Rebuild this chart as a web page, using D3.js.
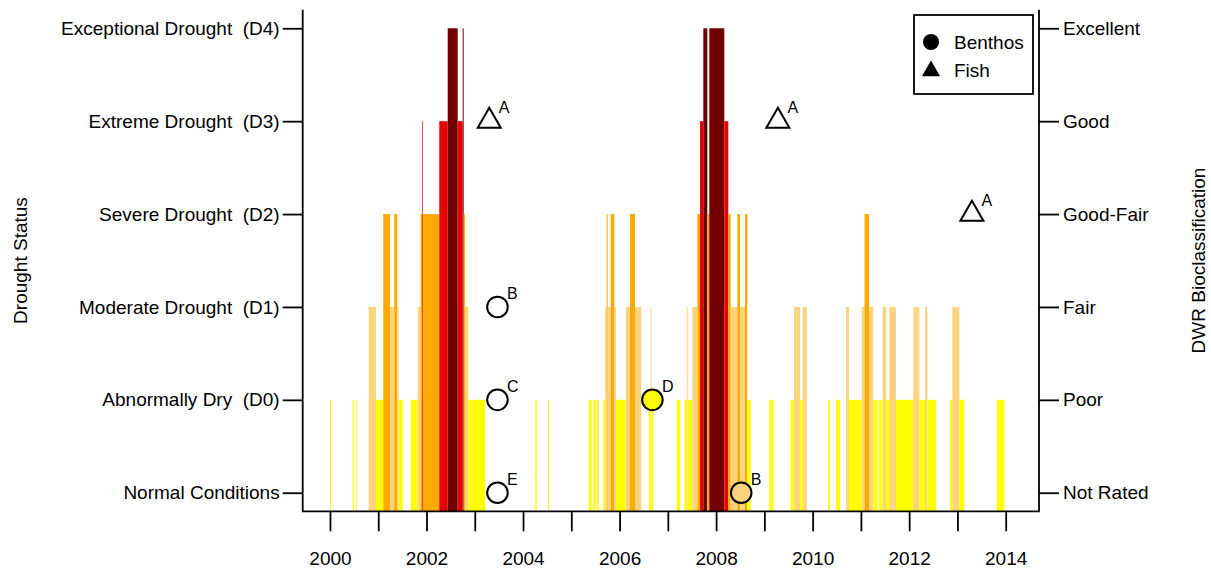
<!DOCTYPE html>
<html>
<head>
<meta charset="utf-8">
<script src="https://cdn.jsdelivr.net/npm/d3@7"></script>
<style>
  body { margin: 0; background: #fff; }
  svg text { font-family: "Liberation Sans", Arial, sans-serif; fill: #000; }
</style>
</head>
<body>
<div id="chart"></div>
<script>
var width = 1211;
var height = 570;

// weekly drought monitor periods (decimal years) and category (0 = D0 ... 4 = D4)
var periodStart = [2000.000, 2000.470, 2000.533, 2000.802, 2000.953, 2001.104, 2001.243, 2001.332, 2001.395, 2001.424,
                   2001.672, 2001.817, 2001.879, 2001.913, 2001.927, 2002.265, 2002.439, 2002.646, 2002.750, 2002.770,
                   2002.797, 2002.866, 2004.254, 2004.517, 2005.367, 2005.456, 2005.533, 2005.663, 2005.704, 2005.733,
                   2005.754, 2005.816, 2005.891, 2005.926, 2006.127, 2006.216, 2006.320, 2006.610, 2006.645, 2006.662,
                   2007.184, 2007.342, 2007.391, 2007.412, 2007.507, 2007.611, 2007.667, 2007.735, 2007.818, 2007.859,
                   2008.170, 2008.253, 2008.303, 2008.440, 2008.496, 2008.599, 2008.647, 2009.103, 2009.546, 2009.615,
                   2009.739, 2009.795, 2010.325, 2010.485, 2010.692, 2010.754, 2011.017, 2011.075, 2011.169, 2011.258,
                   2011.376, 2011.452, 2011.521, 2011.589, 2011.728, 2012.087, 2012.211, 2012.329, 2012.377, 2012.847,
                   2012.895, 2013.040, 2013.815];
var periodEnd   = [2000.021, 2000.491, 2000.553, 2000.953, 2001.104, 2001.243, 2001.332, 2001.395, 2001.424, 2001.506,
                   2001.817, 2001.879, 2001.913, 2001.927, 2002.265, 2002.439, 2002.646, 2002.750, 2002.770, 2002.797,
                   2002.866, 2003.212, 2004.283, 2004.538, 2005.423, 2005.505, 2005.568, 2005.704, 2005.733, 2005.754,
                   2005.816, 2005.891, 2005.926, 2006.127, 2006.216, 2006.320, 2006.450, 2006.645, 2006.662, 2006.699,
                   2007.252, 2007.391, 2007.412, 2007.507, 2007.611, 2007.667, 2007.735, 2007.818, 2007.859, 2008.170,
                   2008.253, 2008.303, 2008.440, 2008.496, 2008.599, 2008.647, 2008.717, 2009.186, 2009.615, 2009.739,
                   2009.795, 2009.878, 2010.361, 2010.568, 2010.754, 2011.017, 2011.075, 2011.169, 2011.258, 2011.341,
                   2011.452, 2011.521, 2011.589, 2011.728, 2012.087, 2012.211, 2012.329, 2012.377, 2012.557, 2012.895,
                   2013.040, 2013.143, 2013.972];
var droughtCat  = [0, 0, 0, 1, 0, 2, 1, 2, 1, 0,
                   0, 1, 2, 3, 2, 3, 4, 3, 4, 2,
                   1, 0, 0, 0, 0, 0, 0, 0, 1, 2,
                   1, 2, 1, 0, 1, 2, 1, 0, 1, 0,
                   0, 0, 1, 0, 1, 2, 3, 4, 2, 4,
                   3, 2, 1, 2, 1, 2, 0, 0, 0, 1,
                   0, 1, 0, 0, 1, 0, 1, 2, 1, 0,
                   0, 1, 0, 1, 0, 1, 0, 1, 0, 0,
                   1, 0, 0];

var droughtLabels = ["Normal Conditions", "Abnormally Dry  (D0)", "Moderate Drought  (D1)",
                     "Severe Drought  (D2)", "Extreme Drought  (D3)", "Exceptional Drought  (D4)"];
var bioLabels = ["Not Rated", "Poor", "Fair", "Good-Fair", "Good", "Excellent"];
var droughtColors = ["#FFFF00", "#FCD37F", "#FFAA00", "#E60000", "#730000"];

// bioclassification samples
var sampleDate   = [2003.30, 2009.28, 2013.30, 2003.47, 2003.47, 2003.47, 2006.68, 2008.52];
var sampleType   = ["Fish", "Fish", "Fish", "Benthos", "Benthos", "Benthos", "Benthos", "Benthos"];
var sampleRating = [4, 4, 3, 2, 1, 0, 1, 0];
var sampleLetter = ["A", "A", "A", "B", "C", "E", "D", "B"];

var yearTicks = d3.range(2000, 2015);

var periods = periodStart.map(function(s, i) {
    return {"start": s, "end": periodEnd[i], "cat": droughtCat[i]};
});
var samples = sampleDate.map(function(d, i) {
    return {"date": d, "type": sampleType[i], "rating": sampleRating[i], "letter": sampleLetter[i]};
});

function droughtAt(date) {
    for (let i = 0; i < periods.length; i++) {
        if (date >= periods[i].start && date < periods[i].end) { return periods[i].cat; }
    }
    return null;
}

function triangle(cx, cy, r) {
    return "M" + cx + "," + (cy - r) +
           "L" + (cx + 0.866 * r) + "," + (cy + r / 2) +
           "L" + (cx - 0.866 * r) + "," + (cy + r / 2) + "Z";
}

var plotLeft = 302.7, plotRight = 1039, plotTop = 9.7, plotBottom = 511.3;

var xScale = d3.scaleLinear()
    .domain([1999.435, 2014.69])
    .range([plotLeft, plotRight]);
var yScale = d3.scaleLinear()
    .domain([-0.2, 5.2])
    .range([plotBottom, plotTop]);

var svg = d3.select("#chart").append("svg")
    .attr("width", width)
    .attr("height", height);

// drought bars
svg.append("g").selectAll("rect")
    .data(periods)
    .enter().append("rect")
    .attr("x", function(d) { return xScale(d.start); })
    .attr("width", function(d) { return xScale(d.end) - xScale(d.start); })
    .attr("y", function(d) { return yScale(d.cat + 1); })
    .attr("height", function(d) { return yScale(-0.2) - yScale(d.cat + 1); })
    .style("fill", function(d) { return droughtColors[d.cat]; });

// box (left, bottom, right)
svg.append("path")
    .attr("d", "M" + plotLeft + "," + plotTop + "V" + plotBottom + "H" + plotRight + "V" + plotTop)
    .style("fill", "none")
    .style("stroke", "#000")
    .style("stroke-width", 1.8);

var fontSize = "19px";

var xAxis = svg.append("g")
    .attr("transform", "translate(0," + plotBottom + ")")
    .call(d3.axisBottom(xScale)
        .tickValues(yearTicks)
        .tickFormat(function(d) { return d % 2 === 0 ? d : ""; })
        .tickSize(20)
        .tickPadding(20));

var yAxisLeft = svg.append("g")
    .attr("transform", "translate(" + plotLeft + ",0)")
    .call(d3.axisLeft(yScale)
        .tickValues(d3.range(6))
        .tickFormat(function(d) { return droughtLabels[d]; })
        .tickSize(20)
        .tickPadding(3));

var yAxisRight = svg.append("g")
    .attr("transform", "translate(" + plotRight + ",0)")
    .call(d3.axisRight(yScale)
        .tickValues(d3.range(6))
        .tickFormat(function(d) { return bioLabels[d]; })
        .tickSize(20)
        .tickPadding(4));

[xAxis, yAxisLeft, yAxisRight].forEach(function(a) {
    a.attr("font-size", null).attr("font-family", null);
    a.select(".domain").remove();
    a.selectAll("line").style("stroke", "#000").style("stroke-width", 1.8);
    a.selectAll("text")
        .style("font-size", fontSize)
        .style("white-space", "pre")
        .attr("fill", "#000");
});

// axis titles
svg.append("text")
    .attr("transform", "translate(20," + ((plotTop + plotBottom) / 2) + ") rotate(-90)")
    .attr("text-anchor", "middle")
    .attr("dominant-baseline", "central")
    .style("font-size", fontSize)
    .text("Drought Status");

svg.append("text")
    .attr("transform", "translate(1198," + ((plotTop + plotBottom) / 2) + ") rotate(-90)")
    .attr("text-anchor", "middle")
    .attr("dominant-baseline", "central")
    .style("font-size", fontSize)
    .text("DWR Bioclassification");

// samples
var pts = svg.append("g");
pts.selectAll("circle")
    .data(samples.filter(function(d) { return d.type === "Benthos"; }))
    .enter().append("circle")
    .attr("cx", function(d) { return xScale(d.date); })
    .attr("cy", function(d) { return yScale(d.rating); })
    .attr("r", 10.3)
    .style("fill", function(d) {
        let c = droughtAt(d.date);
        return c === null ? "none" : droughtColors[c];
    })
    .style("stroke", "#000")
    .style("stroke-width", 2);

pts.selectAll("path")
    .data(samples.filter(function(d) { return d.type === "Fish"; }))
    .enter().append("path")
    .attr("d", function(d) { return triangle(xScale(d.date), yScale(d.rating), 13.3); })
    .style("fill", function(d) {
        let c = droughtAt(d.date);
        return c === null ? "none" : droughtColors[c];
    })
    .style("stroke", "#000")
    .style("stroke-width", 2);

pts.selectAll("text")
    .data(samples)
    .enter().append("text")
    .attr("x", function(d) { return xScale(d.date) + 9.5; })
    .attr("y", function(d) { return yScale(d.rating) - 8; })
    .style("font-size", "16px")
    .text(function(d) { return d.letter; });

// legend
var legend = svg.append("g");
legend.append("rect")
    .attr("x", 914)
    .attr("y", 15)
    .attr("width", 119)
    .attr("height", 79)
    .style("fill", "#fff")
    .style("stroke", "#000")
    .style("stroke-width", 1.8);
legend.append("circle")
    .attr("cx", 931)
    .attr("cy", 42)
    .attr("r", 8)
    .style("fill", "#000");
legend.append("path")
    .attr("d", triangle(931, 71, 10.5))
    .style("fill", "#000");
legend.selectAll("text.leg")
    .data(["Benthos", "Fish"])
    .enter().append("text")
    .attr("class", "leg")
    .attr("x", 954)
    .attr("y", function(d, i) { return 42 + i * 28; })
    .attr("dominant-baseline", "central")
    .style("font-size", fontSize)
    .text(function(d) { return d; });
</script>
</body>
</html>
